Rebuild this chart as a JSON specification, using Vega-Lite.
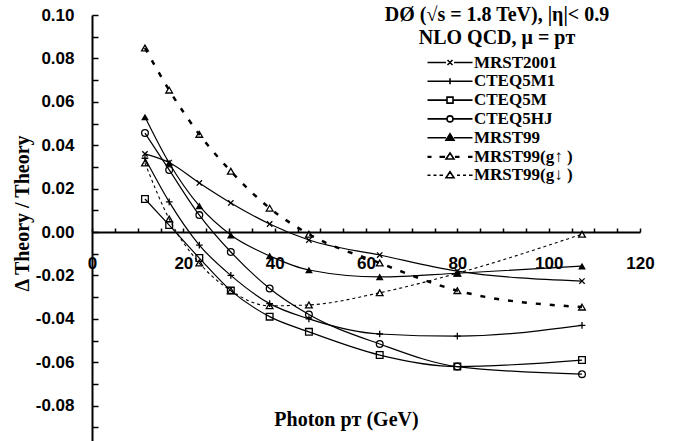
{
  "$schema": "https://vega.github.io/schema/vega-lite/v6.json",
  "width": 548,
  "height": 426,
  "autosize": {"type": "none"},
  "padding": {"left": 92, "top": 15, "right": 40, "bottom": 0},
  "background": "white",
  "config": {"view": {"stroke": null}, "axis": {"grid": false}},
  "title": {
    "text": ["DØ (√s = 1.8 TeV), |η|< 0.9", "NLO QCD, μ = pᴛ"],
    "anchor": "middle",
    "frame": "group",
    "align": "center",
    "dx": 131,
    "dy": 42,
    "offset": 0,
    "font": "Liberation Serif",
    "fontSize": 20,
    "fontWeight": "bold",
    "lineHeight": 23,
    "color": "black"
  },
  "data": {"values": [
    {"x": 11.6, "y": 0.036, "s": "MRST2001"},
    {"x": 16.9, "y": 0.032, "s": "MRST2001"},
    {"x": 23.5, "y": 0.0226, "s": "MRST2001"},
    {"x": 30.4, "y": 0.0134, "s": "MRST2001"},
    {"x": 38.9, "y": 0.0037, "s": "MRST2001"},
    {"x": 47.5, "y": -0.0037, "s": "MRST2001"},
    {"x": 63.0, "y": -0.0106, "s": "MRST2001"},
    {"x": 80.0, "y": -0.018, "s": "MRST2001"},
    {"x": 107.3, "y": -0.0226, "s": "MRST2001"},
    {"x": 11.6, "y": 0.034, "s": "CTEQ5M1"},
    {"x": 16.9, "y": 0.0139, "s": "CTEQ5M1"},
    {"x": 23.5, "y": -0.006, "s": "CTEQ5M1"},
    {"x": 30.4, "y": -0.02, "s": "CTEQ5M1"},
    {"x": 38.9, "y": -0.033, "s": "CTEQ5M1"},
    {"x": 47.5, "y": -0.04, "s": "CTEQ5M1"},
    {"x": 63.0, "y": -0.047, "s": "CTEQ5M1"},
    {"x": 80.0, "y": -0.048, "s": "CTEQ5M1"},
    {"x": 107.3, "y": -0.043, "s": "CTEQ5M1"},
    {"x": 11.6, "y": 0.0152, "s": "CTEQ5M"},
    {"x": 16.9, "y": 0.0032, "s": "CTEQ5M"},
    {"x": 23.5, "y": -0.012, "s": "CTEQ5M"},
    {"x": 30.4, "y": -0.027, "s": "CTEQ5M"},
    {"x": 38.9, "y": -0.039, "s": "CTEQ5M"},
    {"x": 47.5, "y": -0.046, "s": "CTEQ5M"},
    {"x": 63.0, "y": -0.0567, "s": "CTEQ5M"},
    {"x": 80.0, "y": -0.062, "s": "CTEQ5M"},
    {"x": 107.3, "y": -0.059, "s": "CTEQ5M"},
    {"x": 11.6, "y": 0.0456, "s": "CTEQ5HJ"},
    {"x": 16.9, "y": 0.0286, "s": "CTEQ5HJ"},
    {"x": 23.5, "y": 0.0078, "s": "CTEQ5HJ"},
    {"x": 30.4, "y": -0.0092, "s": "CTEQ5HJ"},
    {"x": 38.9, "y": -0.026, "s": "CTEQ5HJ"},
    {"x": 47.5, "y": -0.038, "s": "CTEQ5HJ"},
    {"x": 63.0, "y": -0.0516, "s": "CTEQ5HJ"},
    {"x": 80.0, "y": -0.062, "s": "CTEQ5HJ"},
    {"x": 107.3, "y": -0.0655, "s": "CTEQ5HJ"},
    {"x": 11.6, "y": 0.053, "s": "MRST99"},
    {"x": 16.9, "y": 0.0318, "s": "MRST99"},
    {"x": 23.5, "y": 0.012, "s": "MRST99"},
    {"x": 30.4, "y": -0.0014, "s": "MRST99"},
    {"x": 38.9, "y": -0.011, "s": "MRST99"},
    {"x": 47.5, "y": -0.0175, "s": "MRST99"},
    {"x": 63.0, "y": -0.0207, "s": "MRST99"},
    {"x": 80.0, "y": -0.019, "s": "MRST99"},
    {"x": 107.3, "y": -0.0157, "s": "MRST99"},
    {"x": 11.6, "y": 0.0848, "s": "MRST99(g↑ )"},
    {"x": 16.9, "y": 0.0654, "s": "MRST99(g↑ )"},
    {"x": 23.5, "y": 0.045, "s": "MRST99(g↑ )"},
    {"x": 30.4, "y": 0.028, "s": "MRST99(g↑ )"},
    {"x": 38.9, "y": 0.011, "s": "MRST99(g↑ )"},
    {"x": 47.5, "y": -0.001, "s": "MRST99(g↑ )"},
    {"x": 63.0, "y": -0.0143, "s": "MRST99(g↑ )"},
    {"x": 80.0, "y": -0.027, "s": "MRST99(g↑ )"},
    {"x": 107.3, "y": -0.0346, "s": "MRST99(g↑ )"},
    {"x": 11.6, "y": 0.0318, "s": "MRST99(g↓ )"},
    {"x": 16.9, "y": 0.006, "s": "MRST99(g↓ )"},
    {"x": 23.5, "y": -0.0143, "s": "MRST99(g↓ )"},
    {"x": 30.4, "y": -0.027, "s": "MRST99(g↓ )"},
    {"x": 38.9, "y": -0.034, "s": "MRST99(g↓ )"},
    {"x": 47.5, "y": -0.0336, "s": "MRST99(g↓ )"},
    {"x": 63.0, "y": -0.028, "s": "MRST99(g↓ )"},
    {"x": 80.0, "y": -0.019, "s": "MRST99(g↓ )"},
    {"x": 107.3, "y": -0.001, "s": "MRST99(g↓ )"}
  ]},
  "encoding": {
    "x": {
      "field": "x", "type": "quantitative",
      "scale": {"domain": [0, 120], "nice": false, "zero": false},
      "axis": {
        "values": [0,5,10,15,20,25,30,35,40,45,50,55,60,65,70,75,80,85,90,95,100,105,110,115,120],
        "labelExpr": "datum.value % 20 === 0 ? datum.label : ''",
        "offset": -209,
        "tickSize": -4,
        "tickWidth": 1.5,
        "tickColor": "black",
        "domainWidth": 2,
        "domainColor": "black",
        "labelFont": "Liberation Sans",
        "labelFontWeight": "bold",
        "labelFontSize": 17,
        "labelColor": "black",
        "labelPadding": 27,
        "labelFlush": false,
        "labelOverlap": false,
        "title": "Photon pᴛ (GeV)",
        "titleFont": "Liberation Serif",
        "titleFontWeight": "bold",
        "titleFontSize": 20,
        "titleColor": "black",
        "titleX": 254,
        "titleY": 187,
        "titleAlign": "center",
        "titleBaseline": "middle"
      }
    },
    "y": {
      "field": "y", "type": "quantitative",
      "scale": {"domain": [-0.0963, 0.1], "nice": false, "zero": false},
      "axis": {
        "values": [-0.09,-0.08,-0.07,-0.06,-0.05,-0.04,-0.03,-0.02,-0.01,0,0.01,0.02,0.03,0.04,0.05,0.06,0.07,0.08,0.09,0.1],
        "labelExpr": "abs(round(datum.value*100)) % 2 == 0 ? replace(format(datum.value, '.2f'), '−', '-') : ''",
        "tickSize": -6,
        "tickWidth": 1.5,
        "tickColor": "black",
        "domainWidth": 2,
        "domainColor": "black",
        "labelFont": "Liberation Sans",
        "labelFontWeight": "bold",
        "labelFontSize": 17,
        "labelColor": "black",
        "labelPadding": 24,
        "labelOverlap": false,
        "labelFlush": false,
        "title": "Δ Theory / Theory",
        "titleFont": "Liberation Serif",
        "titleFontWeight": "bold",
        "titleFontSize": 20,
        "titleColor": "black",
        "titleX": -70,
        "titleY": 198,
        "titleAlign": "center",
        "titleBaseline": "middle",
        "titleAngle": -90
      }
    }
  },
  "layer": [
    {
      "transform": [{"filter": "indexof(['MRST2001','CTEQ5M1','CTEQ5M','CTEQ5HJ','MRST99'], datum.s) >= 0"}],
      "mark": {"type": "line", "color": "black", "strokeWidth": 1.2, "interpolate": "monotone"},
      "encoding": {"detail": {"field": "s"}}
    },
    {
      "transform": [{"filter": "datum.s === 'MRST99(g↑ )'"}],
      "mark": {"type": "line", "color": "black", "strokeWidth": 2.5, "strokeDash": [5, 9], "interpolate": "monotone"},
      "encoding": {}
    },
    {
      "transform": [{"filter": "datum.s === 'MRST99(g↓ )'"}],
      "mark": {"type": "line", "color": "black", "strokeWidth": 1.1, "strokeDash": [3, 3], "interpolate": "monotone"},
      "encoding": {}
    },
    {
      "transform": [{"filter": "datum.s !== 'MRST99'"}],
      "mark": {"type": "point", "filled": false, "color": "black", "strokeWidth": 1.3, "size": 45, "opacity": 1},
      "encoding": {
        "shape": {
          "field": "s", "type": "nominal", "legend": null,
          "scale": {
            "domain": ["MRST2001", "CTEQ5M1", "CTEQ5M", "CTEQ5HJ", "MRST99(g↑ )", "MRST99(g↓ )"],
            "range": ["M-0.8,-0.8L0.8,0.8M0.8,-0.8L-0.8,0.8", "M-1,0H1M0,-1V1", "square", "circle", "triangle-up", "triangle-up"]
          }
        }
      }
    },
    {
      "transform": [{"filter": "datum.s === 'MRST99'"}],
      "mark": {"type": "point", "filled": true, "shape": "triangle-up", "color": "black", "size": 60, "opacity": 1},
      "encoding": {}
    },
    {
      "mark": {"type": "point", "filled": false, "color": "black", "strokeWidth": 1.6, "size": 0, "opacity": 1},
      "encoding": {
        "shape": {
          "field": "s", "type": "nominal",
          "scale": {
            "domain": ["MRST2001", "CTEQ5M1", "CTEQ5M", "CTEQ5HJ", "MRST99", "MRST99(g↑ )", "MRST99(g↓ )"],
            "range": [
              "M-8,0H-4.3M-2.7,0H1M-4.0,-0.5L-3.0,0.5M-3.0,-0.5L-4.0,0.5",
              "M-8,0H1M-3.5,-0.6V0.6",
              "M-8,0H-4.1M-2.9,0H1M-4.1,-0.6H-2.9V0.6H-4.1Z",
              "M-8,0H-4.1M-2.9,0H1M-4.1,0A0.6,0.6 0 1,0 -2.9,0A0.6,0.6 0 1,0 -4.1,0",
              "M-8,0H-4.3M-2.7,0H1M-3.5,-0.8L-2.7,0.5H-4.3ZM-3.5,-0.4L-3.05,0.3H-3.95ZM-3.5,-0.1L-3.3,0.2H-3.7Z",
              "M-8,0H-7.2M-8,0.15H-7.2M-5.6,0H-4.5M-5.6,0.15H-4.5M-3.5,-0.7L-2.7,0.5H-4.3ZM-2.5,0H-1.6M-2.5,0.15H-1.6M0.1,0H1M0.1,0.15H1",
              "M-8,0H-7.4M-6.8,0H-6.2M-5.6,0H-4.9M-3.5,-0.7L-2.7,0.5H-4.3ZM-2.1,0H-1.5M-0.9,0H-0.3M0.3,0H1"
            ]
          },
          "legend": {
            "orient": "none",
            "legendX": 327,
            "legendY": 39,
            "title": null,
            "labelFont": "Liberation Serif",
            "labelFontSize": 17,
            "labelFontWeight": "bold",
            "labelColor": "black",
            "labelLimit": 300,
            "symbolSize": 100,
            "symbolOffset": 40,
            "labelOffset": -2,
            "symbolStrokeWidth": 1.6,
            "symbolStrokeColor": "black",
            "rowPadding": 0.8,
            "padding": 0
          }
        }
      }
    }
  ],
  "resolve": {"scale": {"shape": "independent"}}
}
